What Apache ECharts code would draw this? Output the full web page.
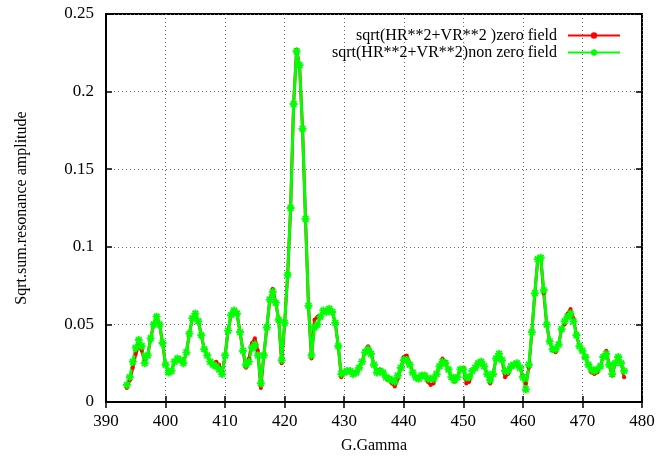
<!DOCTYPE html>
<html>
<head>
<meta charset="utf-8">
<script src="https://cdn.jsdelivr.net/npm/echarts@6/dist/echarts.min.js"></script>
<style>
html,body{margin:0;padding:0;background:#fff;}
#c{width:660px;height:462px;}
</style>
</head>
<body>
<div id="c"></div>
<script>
// G.Gamma sample positions
const gGamma = [
  393.5,394.0,394.5,395.0,395.5,396.0,396.5,397.0,397.5,398.0,
  398.5,399.0,399.5,400.0,400.5,401.0,401.5,402.0,402.5,403.0,
  403.5,404.0,404.5,405.0,405.5,406.0,406.5,407.0,407.5,408.0,
  408.5,409.0,409.5,410.0,410.5,411.0,411.5,412.0,412.5,413.0,
  413.5,414.0,414.5,415.0,415.5,416.0,416.5,417.0,417.5,418.0,
  418.5,419.0,419.5,420.0,420.5,421.0,421.5,422.0,422.5,423.0,
  423.5,424.0,424.5,425.0,425.5,426.0,426.5,427.0,427.5,428.0,
  428.5,429.0,429.5,430.0,430.5,431.0,431.5,432.0,432.5,433.0,
  433.5,434.0,434.5,435.0,435.5,436.0,436.5,437.0,437.5,438.0,
  438.5,439.0,439.5,440.0,440.5,441.0,441.5,442.0,442.5,443.0,
  443.5,444.0,444.5,445.0,445.5,446.0,446.5,447.0,447.5,448.0,
  448.5,449.0,449.5,450.0,450.5,451.0,451.5,452.0,452.5,453.0,
  453.5,454.0,454.5,455.0,455.5,456.0,456.5,457.0,457.5,458.0,
  458.5,459.0,459.5,460.0,460.5,461.0,461.5,462.0,462.5,463.0,
  463.5,464.0,464.5,465.0,465.5,466.0,466.5,467.0,467.5,468.0,
  468.5,469.0,469.5,470.0,470.5,471.0,471.5,472.0,472.5,473.0,
  473.5,474.0,474.5,475.0,475.5,476.0,476.5,477.0
];
// sqrt(HR**2+VR**2 ) zero field
const zeroField = [
  .009,.014,.022,.031,.036,.033,.026,.030,.041,.050,
  .055,.050,.038,.024,.019,.020,.026,.028,.027,.025,
  .032,.044,.054,.057,.052,.043,.034,.030,.026,.025,
  .026,.024,.019,.030,.046,.056,.059,.057,.045,.033,
  .022,.028,.038,.041,.033,.009,.030,.048,.066,.073,
  .064,.053,.025,.051,.082,.125,.192,.227,.217,.176,
  .118,.062,.028,.053,.055,.055,.059,.058,.060,.058,
  .051,.036,.016,.019,.020,.020,.018,.019,.022,.026,
  .033,.036,.032,.024,.019,.021,.019,.016,.014,.012,
  .010,.015,.022,.029,.030,.025,.019,.016,.015,.017,
  .017,.013,.011,.012,.018,.023,.028,.026,.021,.016,
  .013,.016,.021,.022,.012,.013,.020,.022,.025,.026,
  .023,.018,.012,.018,.028,.031,.027,.016,.018,.023,
  .024,.025,.022,.017,.012,.022,.045,.070,.092,.093,
  .070,.050,.039,.033,.032,.037,.047,.050,.057,.060,
  .054,.043,.036,.033,.029,.024,.019,.018,.019,.023,
  .029,.033,.024,.017,.025,.029,.025,.016
];
// sqrt(HR**2+VR**2) non zero field
const nonZeroField = [
  .011,.016,.026,.035,.040,.036,.025,.030,.041,.050,
  .055,.050,.038,.024,.019,.020,.026,.028,.027,.025,
  .032,.044,.054,.057,.052,.043,.034,.030,.026,.024,
  .023,.021,.018,.030,.046,.056,.059,.057,.045,.033,
  .024,.026,.035,.037,.030,.012,.030,.048,.066,.071,
  .064,.053,.027,.051,.082,.125,.192,.226,.217,.176,
  .118,.062,.030,.048,.050,.055,.059,.058,.060,.058,
  .051,.036,.018,.019,.020,.020,.018,.019,.022,.026,
  .032,.034,.031,.024,.019,.020,.019,.016,.015,.014,
  .013,.017,.022,.027,.027,.024,.019,.016,.015,.017,
  .017,.015,.015,.015,.018,.023,.026,.025,.021,.016,
  .014,.016,.021,.021,.016,.016,.020,.022,.025,.026,
  .023,.018,.014,.018,.028,.031,.027,.020,.020,.023,
  .024,.025,.022,.016,.008,.024,.045,.070,.092,.093,
  .072,.050,.039,.034,.034,.037,.047,.052,.055,.057,
  .052,.043,.036,.033,.029,.024,.021,.020,.021,.023,
  .029,.031,.024,.018,.025,.029,.025,.020
];
const seriesNames = ['sqrt(HR**2+VR**2 )zero field', 'sqrt(HR**2+VR**2)non zero field'];
const xTitle = 'G.Gamma';
const yTitle = 'Sqrt.sum.resonance amplitude';

const font = "'Liberation Serif', serif";
const pair = (ys) => gGamma.map((x, i) => [x, ys[i]]);
const star = 'path://M0,-5L0,5M-5,0L5,0M-3.6,-3.6L3.6,3.6M-3.6,3.6L3.6,-3.6';

const chart = echarts.init(document.getElementById('c'), null, {renderer: 'canvas'});
const gridLine = {show: true, lineStyle: {color: '#666', type: [1, 3], width: 1}};
const tickIn = {show: true, inside: true, length: 6, lineStyle: {color: '#000', width: 1.5}};
const richLbl = {t: {fontFamily: font, fontSize: 17, color: '#000'}};
chart.setOption({
  animation: false,
  backgroundColor: '#fff',
  textStyle: {fontFamily: font},
  grid: {left: 106, right: 18, top: 14, bottom: 60, show: true, borderColor: '#000', borderWidth: 2, backgroundColor: 'transparent'},
  legend: {
    orient: 'vertical', right: 34, top: 22, align: 'right',
    itemWidth: 52, itemHeight: 8, itemGap: 0,
    textStyle: {fontFamily: font, fontSize: 16, color: '#000', padding: [0, 6, 0, 0], lineHeight: 17},
    data: seriesNames
  },
  xAxis: [{
    type: 'value', min: 390, max: 480, interval: 10,
    name: xTitle, nameLocation: 'middle', nameGap: 36,
    nameTextStyle: {fontFamily: font, fontSize: 16, color: '#000'},
    axisLine: {show: true, onZero: false, lineStyle: {color: '#000', width: 2}},
    axisTick: tickIn,
    axisLabel: {margin: 11, fontFamily: font, fontSize: 17, color: '#000', formatter: (v) => '{t|' + v + '}', rich: richLbl},
    splitLine: gridLine
  }, {
    type: 'value', min: 390, max: 480, interval: 10, position: 'top',
    axisLine: {show: false}, axisTick: tickIn, axisLabel: {show: false}, splitLine: {show: false}
  }],
  yAxis: [{
    type: 'value', min: 0, max: 0.25, interval: 0.05,
    name: yTitle, nameLocation: 'middle', nameGap: 76,
    nameTextStyle: {fontFamily: font, fontSize: 16, color: '#000'},
    axisLine: {show: true, onZero: false, lineStyle: {color: '#000', width: 2}},
    axisTick: tickIn,
    axisLabel: {margin: 12, fontFamily: font, fontSize: 17, color: '#000', formatter: (v) => '{t|' + v + '}', rich: richLbl},
    splitLine: gridLine
  }, {
    type: 'value', min: 0, max: 0.25, interval: 0.05, position: 'right',
    axisLine: {show: false}, axisTick: tickIn, axisLabel: {show: false}, splitLine: {show: false}
  }],
  series: [{
    name: seriesNames[0], type: 'line', data: pair(zeroField),
    symbol: 'circle', symbolSize: 4,
    lineStyle: {color: '#ff0000', width: 3},
    itemStyle: {color: '#ff0000'}
  }, {
    name: seriesNames[1], type: 'line', data: pair(nonZeroField),
    symbol: star, symbolSize: 8,
    lineStyle: {color: '#00ff00', width: 3},
    itemStyle: {color: '#00ff00', borderColor: '#00ff00', borderWidth: 1.8}
  }]
});
</script>
</body>
</html>
